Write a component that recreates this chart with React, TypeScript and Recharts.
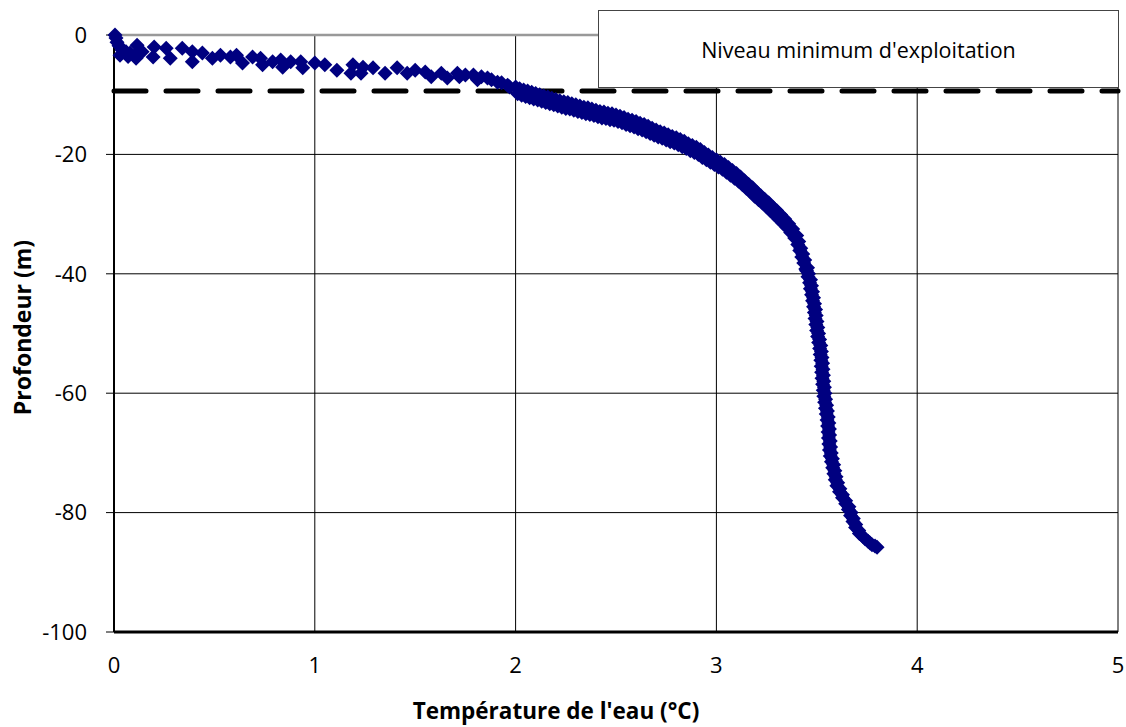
import React from 'react';
import {
  ScatterChart,
  Scatter,
  XAxis,
  YAxis,
  CartesianGrid,
  ReferenceLine,
  Legend,
} from 'recharts';

// Water temperature (°C) vs depth (m), read from surface downward
const surfaceReadings: [number, number][] = [
  [0.005, 0], [0.01, -0.5], [0.015, -1.2], [0.025, -1.8], [0.04, -2.5],
  [0.06, -2.8], [0.08, -3.0], [0.03, -3.4], [0.07, -3.6], [0.11, -3.9],
  [0.115, -1.7], [0.14, -2.8], [0.105, -3.4], [0.2, -2.0], [0.195, -3.7],
  [0.26, -2.2], [0.28, -3.9], [0.34, -2.2], [0.39, -4.5], [0.39, -2.8],
  [0.44, -3.0], [0.49, -3.9], [0.53, -3.4], [0.58, -3.7], [0.61, -3.4],
  [0.64, -4.7], [0.69, -3.7], [0.73, -3.9], [0.74, -5.0], [0.79, -4.5],
  [0.83, -4.2], [0.84, -5.4], [0.88, -4.5], [0.93, -4.5], [0.94, -5.5],
  [1.0, -4.7], [1.05, -5.0], [1.11, -5.9], [1.19, -5.0], [1.18, -6.4],
  [1.24, -5.4], [1.23, -6.4], [1.29, -5.5], [1.35, -6.4], [1.41, -5.5],
  [1.46, -6.4], [1.5, -5.9], [1.55, -6.2], [1.58, -7.0], [1.63, -6.4],
  [1.66, -7.2], [1.71, -6.4], [1.72, -7.0], [1.75, -6.7], [1.79, -6.7],
  [1.81, -7.5], [1.83, -7.0], [1.86, -7.2], [1.88, -7.5], [1.91, -7.9],
  [1.93, -8.0], [1.96, -8.4], [1.97, -8.7],
];

const thermoclineReadings: [number, number][] = [
  [2.0, -8.7], [2.01, -9.85], [2.02, -9.0], [2.03, -10.1], [2.04, -9.2],
  [2.05, -10.3], [2.06, -9.4], [2.07, -10.5], [2.08, -9.6], [2.09, -10.7],
  [2.1, -9.8], [2.11, -10.9], [2.12, -10.0], [2.13, -11.1], [2.14, -10.2],
  [2.15, -11.3], [2.16, -10.4], [2.17, -11.5], [2.18, -10.6], [2.19, -11.7],
  [2.2, -10.8], [2.21, -11.9], [2.22, -11.0], [2.23, -12.1], [2.24, -11.2],
  [2.25, -12.3], [2.26, -11.3], [2.27, -12.4], [2.28, -11.5], [2.29, -12.6],
  [2.3, -11.7], [2.31, -12.8], [2.32, -11.9], [2.33, -13.0], [2.34, -12.1],
  [2.35, -13.2], [2.36, -12.2], [2.37, -13.3], [2.38, -12.4], [2.39, -13.5],
  [2.4, -12.6], [2.41, -13.7], [2.42, -12.8], [2.43, -13.9], [2.44, -12.9],
  [2.45, -14.0], [2.46, -13.1], [2.47, -14.2], [2.48, -13.2], [2.49, -14.3],
  [2.5, -13.4], [2.51, -14.5], [2.52, -13.6], [2.53, -14.7], [2.54, -13.8],
  [2.55, -15.0], [2.56, -14.1], [2.57, -15.2], [2.58, -14.3], [2.59, -15.4],
  [2.6, -14.5], [2.61, -15.7], [2.62, -14.8], [2.63, -15.9], [2.64, -15.0],
  [2.65, -16.2], [2.66, -15.3], [2.67, -16.5], [2.68, -15.6], [2.69, -16.8],
  [2.7, -15.9], [2.71, -17.1], [2.72, -16.2], [2.73, -17.3], [2.74, -16.4],
  [2.75, -17.6], [2.76, -16.7], [2.77, -17.9], [2.78, -17.0], [2.79, -18.1],
  [2.8, -17.2], [2.81, -18.4], [2.82, -17.5], [2.83, -18.7], [2.84, -17.8],
  [2.85, -19.0], [2.86, -18.2], [2.87, -19.4], [2.88, -18.5], [2.89, -19.7],
  [2.9, -18.8], [2.91, -20.0], [2.92, -19.2], [2.93, -20.5], [2.94, -19.7],
  [2.95, -20.9], [2.96, -20.1], [2.97, -21.3], [2.98, -20.5], [2.99, -21.7],
  [3.0, -20.9], [3.01, -22.1], [3.02, -21.3], [3.03, -22.5], [3.04, -21.7],
  [3.05, -23.0], [3.06, -22.2], [3.07, -23.5], [3.08, -22.7], [3.09, -24.0],
  [3.1, -23.2], [3.11, -24.5], [3.12, -23.8], [3.13, -25.1], [3.14, -24.4],
  [3.15, -25.7], [3.16, -25.0], [3.17, -26.3], [3.18, -25.6], [3.19, -27.0],
  [3.2, -26.3], [3.21, -27.6], [3.22, -26.9], [3.23, -28.2], [3.24, -27.5],
  [3.25, -28.8], [3.26, -28.1], [3.27, -29.5], [3.28, -28.8], [3.29, -30.1],
  [3.3, -29.4], [3.31, -30.8], [3.32, -30.1], [3.33, -31.5], [3.34, -30.8],
  [3.35, -32.2], [3.36, -31.6], [3.37, -33.1], [3.38, -32.5], [3.39, -34.0],
  [3.4, -33.6], [3.405, -35.1], [3.41, -34.6], [3.415, -36.1], [3.42, -35.7],
  [3.425, -37.2], [3.43, -36.7], [3.435, -38.2], [3.44, -37.7], [3.445, -39.2],
];

const deepReadings: [number, number][] = [
  [3.454, -39.0], [3.449, -39.5], [3.459, -40.0], [3.456, -40.5], [3.469, -41.0],
  [3.464, -41.5], [3.474, -42.0], [3.468, -42.5], [3.479, -43.0], [3.474, -43.5],
  [3.484, -44.0], [3.479, -44.5], [3.489, -45.0], [3.484, -45.5], [3.494, -46.0],
  [3.488, -46.5], [3.497, -47.0], [3.491, -47.5], [3.501, -48.0], [3.495, -48.5],
  [3.505, -49.0], [3.499, -49.5], [3.509, -50.0], [3.504, -50.5], [3.514, -51.0],
  [3.509, -51.5], [3.52, -52.0], [3.514, -52.5], [3.523, -53.0], [3.517, -53.5],
  [3.526, -54.0], [3.52, -54.5], [3.529, -55.0], [3.522, -55.5], [3.531, -56.0],
  [3.524, -56.5], [3.533, -57.0], [3.526, -57.5], [3.535, -58.0], [3.529, -58.5],
  [3.538, -59.0], [3.532, -59.5], [3.541, -60.0], [3.535, -60.5], [3.544, -61.0],
  [3.539, -61.5], [3.549, -62.0], [3.543, -62.5], [3.553, -63.0], [3.547, -63.5],
  [3.557, -64.0], [3.551, -64.5], [3.56, -65.0], [3.554, -65.5], [3.563, -66.0],
  [3.556, -66.5], [3.564, -67.0], [3.558, -67.5], [3.567, -68.0], [3.56, -68.5],
  [3.569, -69.0], [3.563, -69.5], [3.572, -70.0], [3.567, -70.5], [3.578, -71.0],
  [3.573, -71.5], [3.584, -72.0], [3.579, -72.5], [3.59, -73.0], [3.585, -73.5],
  [3.596, -74.0], [3.592, -74.5], [3.604, -75.0], [3.6, -75.5], [3.615, -76.0],
  [3.613, -76.5], [3.628, -77.0], [3.628, -77.5], [3.644, -78.0], [3.644, -78.5],
  [3.66, -79.0], [3.657, -79.5], [3.671, -80.0], [3.668, -80.5], [3.682, -81.0],
  [3.68, -81.5], [3.694, -82.0], [3.693, -82.5], [3.709, -83.0], [3.712, -83.5],
  [3.73, -84.0], [3.74, -84.4], [3.755, -84.8], [3.765, -85.1], [3.775, -85.4],
  [3.79, -85.6], [3.8, -85.8],
];

const minLevel = -9.4;
const minLevelLabel = "Niveau minimum d'exploitation";
const tempTicks = [0, 1, 2, 3, 4, 5];
const depthTicks = [-100, -80, -60, -40, -20, 0];

const FONT = '"Open Sans", sans-serif';
const NAVY = '#000080';

const profile = [...surfaceReadings, ...thermoclineReadings, ...deepReadings].map(
  ([temp, depth]) => ({ temp, depth })
);

// Excel-style square diamond marker
const Diamond = (props: any) => {
  const { cx, cy } = props;
  if (cx == null || cy == null) return null;
  const r = 7.5;
  return (
    <polygon
      points={`${cx},${cy - r} ${cx + r},${cy} ${cx},${cy + r} ${cx - r},${cy}`}
      fill={NAVY}
    />
  );
};

const LegendBox = () => (
  <div
    style={{
      width: '100%',
      height: '100%',
      display: 'flex',
      alignItems: 'center',
      justifyContent: 'center',
      fontFamily: FONT,
      fontSize: 21.5,
      color: '#000',
    }}
  >
    {minLevelLabel}
  </div>
);

const XTitle = ({ viewBox }: any) => (
  <text
    x={viewBox.x + viewBox.width / 2 - 60}
    y={viewBox.y + 78}
    textAnchor="middle"
    dominantBaseline="central"
    fontFamily={FONT}
    fontSize={22.5}
    fontWeight="bold"
    fill="#000"
  >
    Température de l'eau (°C)
  </text>
);

const YTitle = ({ viewBox }: any) => {
  const x = viewBox.x + 22;
  const y = viewBox.y + viewBox.height / 2 - 6;
  return (
    <text
      x={x}
      y={y}
      transform={`rotate(-90, ${x}, ${y})`}
      textAnchor="middle"
      dominantBaseline="central"
      fontFamily={FONT}
      fontSize={23}
      fontWeight="bold"
      fill="#000"
    >
      Profondeur (m)
    </text>
  );
};

export default function App() {
  return (
    <div style={{ fontFamily: FONT, width: 1126, height: 727 }}>
      <style>{'body { margin: 0; }'}</style>
      <ScatterChart
        width={1126}
        height={727}
        margin={{ top: 35, right: 8, bottom: 0, left: 0 }}
      >
        <CartesianGrid stroke="#000" strokeWidth={1} />
        <XAxis
          type="number"
          dataKey="temp"
          domain={[0, 5]}
          ticks={tempTicks}
          height={95}
          axisLine={{ stroke: '#000', strokeWidth: 3 }}
          tickLine={false}
          tickSize={6}
          tickMargin={19}
          tick={{ fill: '#000', fontSize: 22, fontFamily: FONT }}
          label={<XTitle />}
        />
        <YAxis
          type="number"
          dataKey="depth"
          domain={[-100, 0]}
          ticks={depthTicks}
          width={114}
          axisLine={{ stroke: '#000', strokeWidth: 2 }}
          tickLine={{ stroke: '#000' }}
          tickSize={8}
          tickMargin={19}
          tick={{ fill: '#000', fontSize: 22, fontFamily: FONT }}
          label={<YTitle />}
        />
        {/* plot-area top border */}
        <ReferenceLine y={0} stroke="#999" strokeWidth={2.5} />
        <Scatter
          name="Profil de température"
          data={profile}
          shape={<Diamond />}
          isAnimationActive={false}
        />
        <ReferenceLine
          y={minLevel}
          stroke="#000"
          strokeWidth={5}
          strokeDasharray="32 20"
          strokeLinecap="round"
        />
        <Legend
          layout="horizontal"
          verticalAlign="middle"
          align="center"
          content={<LegendBox />}
          wrapperStyle={{
            top: 10,
            left: 598,
            width: 521,
            height: 78,
            boxSizing: 'border-box',
            border: '1px solid #444',
            background: '#fff',
          }}
        />
      </ScatterChart>
    </div>
  );
}
